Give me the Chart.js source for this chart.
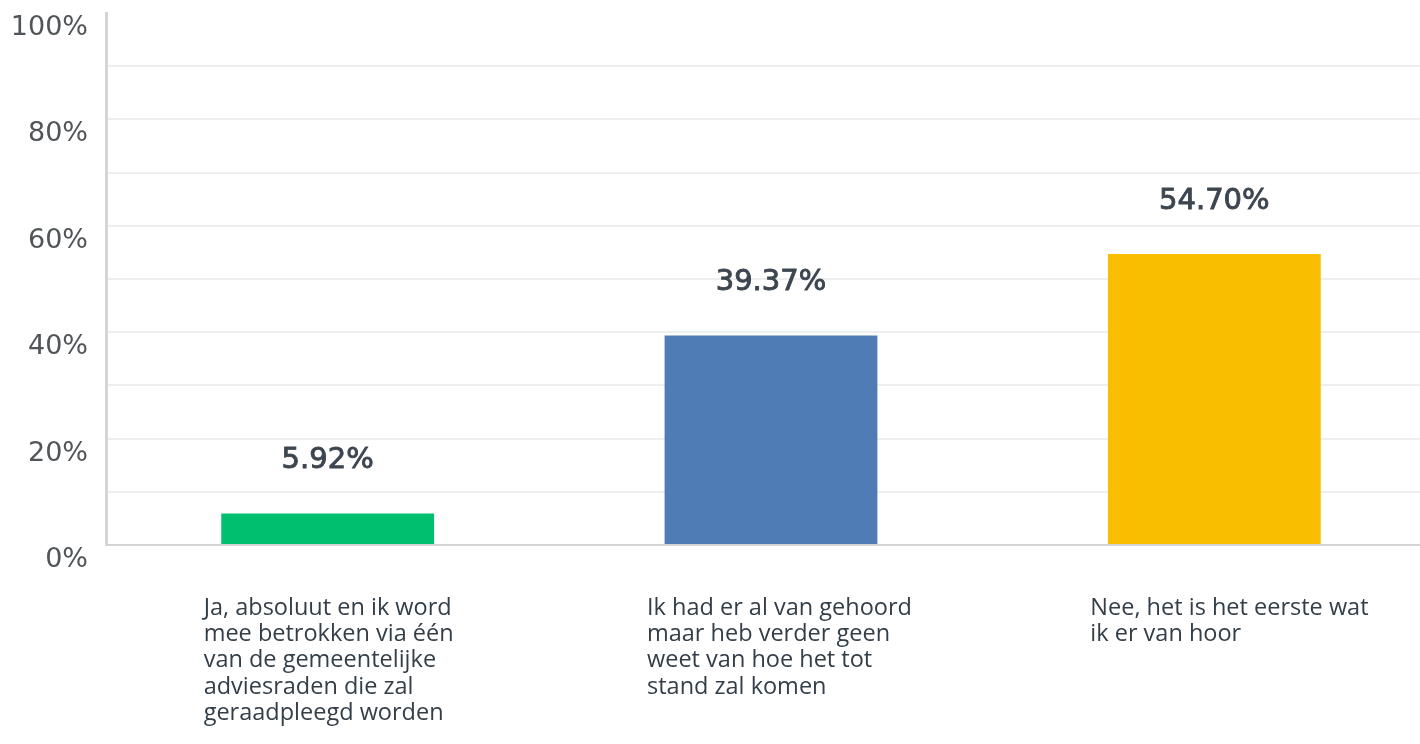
<!DOCTYPE html>
<html>
<head>
<meta charset="utf-8">
<script src="https://cdn.jsdelivr.net/npm/chart.js@4.4.0/dist/chart.umd.min.js"></script>
<style>
    html, body { margin: 0; padding: 0; background: #fff; overflow: hidden; }
    #wrap { width: 1440px; height: 744px; }
</style>
</head>
<body>
<div id="wrap"><canvas id="chart"></canvas></div>
<script>
// Answer options (wrapped as in the picture)
const categories = [
    ['Ja, absoluut en ik word', 'mee betrokken via één', 'van de gemeentelijke', 'adviesraden die zal', 'geraadpleegd worden'],
    ['Ik had er al van gehoord', 'maar heb verder geen', 'weet van hoe het tot', 'stand zal komen'],
    ['Nee, het is het eerste wat', 'ik er van hoor']
];
const percentages = [5.92, 39.37, 54.70];
const barColors = ['#00BF6F', '#507CB6', '#F9BE00'];
const yTickValues = [0, 20, 40, 60, 80, 100];

// Draws the value above each bar
const valueLabels = {
    id: 'valueLabels',
    afterDatasetsDraw(chart) {
        const ctx = chart.ctx;
        const meta = chart.getDatasetMeta(0);
        ctx.save();
        ctx.font = '29px "DejaVu Sans"';
        ctx.fillStyle = '#3d4650';
        ctx.strokeStyle = '#3d4650';
        ctx.lineWidth = 0.9;
        ctx.textAlign = 'center';
        ctx.textBaseline = 'middle';
        meta.data.forEach((bar, i) => {
            const text = percentages[i].toFixed(2) + '%';
            ctx.fillText(text, bar.x, bar.y - 53);
            ctx.strokeText(text, bar.x, bar.y - 53);
        });
        ctx.restore();
    }
};

new Chart(document.getElementById('chart'), {
    type: 'bar',
    data: {
        labels: categories,
        datasets: [{
            data: percentages,
            backgroundColor: barColors,
            barPercentage: 0.48,
            categoryPercentage: 1
        }]
    },
    options: {
        responsive: true,
        maintainAspectRatio: false,
        animation: false,
        layout: { padding: { top: 13, right: 4, left: 0, bottom: 0 } },
        plugins: {
            legend: { display: false },
            tooltip: { enabled: false }
        },
        scales: {
            x: {
                grid: { display: false, drawTicks: false },
                border: { display: true, color: '#d2d4d6', width: 2 },
                ticks: {
                    autoSkip: false,
                    maxRotation: 0,
                    align: 'start',
                    labelOffset: -124,
                    padding: 50,
                    color: '#333e48',
                    font: { family: 'Open Sans', size: 23.5, lineHeight: 1.12 }
                },
                afterFit(scale) {
                    scale.height = 199;
                    scale.paddingLeft = 0;
                    scale.paddingRight = 0;
                }
            },
            y: {
                min: 0,
                max: 100,
                grid: {
                    drawTicks: false,
                    color: ctx => (ctx.tick && ctx.tick.value === 100) ? 'rgba(0,0,0,0)' : '#eceeef',
                    lineWidth: 2
                },
                border: { display: true, color: '#d2d4d6', width: 3 },
                ticks: {
                    stepSize: 10,
                    padding: 18,
                    labelOffset: 15,
                    color: '#505559',
                    font: { family: 'DejaVu Sans', size: 27 },
                    callback: value => yTickValues.includes(value) ? value + '%' : ''
                },
                afterFit(scale) {
                    scale.width = 106;
                    scale.paddingTop = 0;
                    scale.paddingBottom = 0;
                }
            }
        }
    },
    plugins: [valueLabels]
});
</script>
</body>
</html>
